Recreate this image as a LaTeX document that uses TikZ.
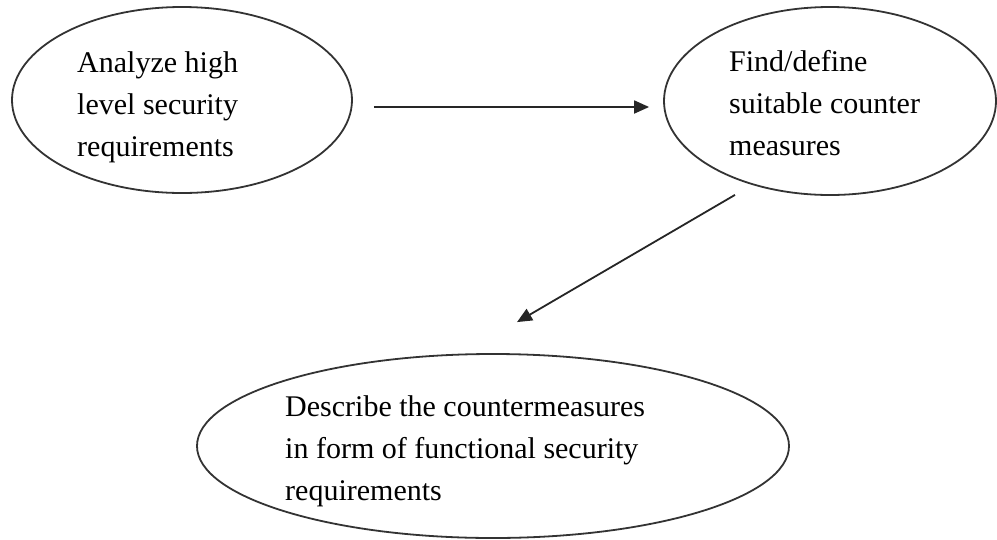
\documentclass[tikz,border=0pt]{standalone}
\usepackage{fontspec}
\setmainfont{Liberation Serif}
\usetikzlibrary{shapes.geometric,arrows.meta,calc}
\tikzset{
  oval/.style={draw=black!80, line width=1.8pt, ellipse, inner sep=0pt},
  label/.style={font=\fontsize{30}{42}\selectfont, align=left, inner sep=0pt, anchor=base west},
  arr/.style={draw=black!85, line width=1.8pt, -{Triangle[length=15pt,width=13pt]}}
}
\begin{document}
\begin{tikzpicture}[x=1pt,y=-1pt]
\useasboundingbox (0,0) rectangle (997,539);
\node[oval, minimum width=340pt, minimum height=186pt] (A) at (182,100) {};
\node[oval, minimum width=332pt, minimum height=188pt] (B) at (830,101) {};
\node[oval, minimum width=592pt, minimum height=184pt] (C) at (493,446) {};
\node[label] (tA) at (77,156) {Analyze high\\level security\\requirements};
\node[label] (tB) at (729,155) {Find/define\\suitable counter\\measures};
\node[label] (tC) at (285,500) {Describe the countermeasures\\in form of functional security\\requirements};
\coordinate (a1) at ($(A.east)+(21,7)$);
\coordinate (b1) at ($(B.west)+(-14,6)$);
\draw[arr] (a1) -- (b1);
\coordinate (b2) at ($(B.south)+(-95,-1)$);
\coordinate (c1) at ($(C.north)+(24,-31)$);
\draw[arr] (b2) -- (c1);
\end{tikzpicture}
\end{document}
